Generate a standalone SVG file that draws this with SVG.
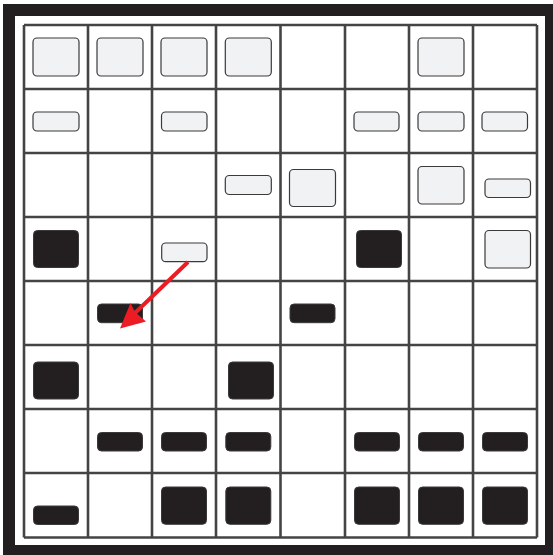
<svg xmlns="http://www.w3.org/2000/svg" width="553" height="555" viewBox="0 0 553 555">
<style>
.grid line{stroke:#444;stroke-width:2.6}
.lt{fill:#f1f2f3;stroke:#3a3a3a;stroke-width:1.2}
.dk{fill:#231f20;stroke:#3a3a3a;stroke-width:1}
.arr{stroke:#ed1c24;stroke-width:4;fill:none}
</style>
<rect x="3" y="4" width="550" height="551" fill="#231f20"/>
<rect x="15" y="16" width="530" height="529" fill="#ffffff"/>
<g class="grid" id="grid">
<line x1="24" y1="25" x2="24" y2="537.5"/>
<line x1="88" y1="25" x2="88" y2="537.5"/>
<line x1="152" y1="25" x2="152" y2="537.5"/>
<line x1="216" y1="25" x2="216" y2="537.5"/>
<line x1="280.5" y1="25" x2="280.5" y2="537.5"/>
<line x1="345" y1="25" x2="345" y2="537.5"/>
<line x1="409" y1="25" x2="409" y2="537.5"/>
<line x1="473" y1="25" x2="473" y2="537.5"/>
<line x1="537" y1="25" x2="537" y2="537.5"/>
<line x1="24" y1="25" x2="537" y2="25"/>
<line x1="24" y1="89" x2="537" y2="89"/>
<line x1="24" y1="153" x2="537" y2="153"/>
<line x1="24" y1="217" x2="537" y2="217"/>
<line x1="24" y1="281" x2="537" y2="281"/>
<line x1="24" y1="345" x2="537" y2="345"/>
<line x1="24" y1="409" x2="537" y2="409"/>
<line x1="24" y1="473" x2="537" y2="473"/>
<line x1="24" y1="537.5" x2="537" y2="537.5"/>
</g>
<g id="r0c0"><rect class="lt" x="33" y="38" width="46" height="38" rx="4"/></g>
<g id="r0c1"><rect class="lt" x="97" y="38" width="46" height="38" rx="4"/></g>
<g id="r0c2"><rect class="lt" x="161" y="38" width="46" height="38" rx="4"/></g>
<g id="r0c3"><rect class="lt" x="225.3" y="38" width="46" height="38" rx="4"/></g>
<g id="r0c6"><rect class="lt" x="418" y="38" width="46" height="38" rx="4"/></g>
<g id="r1c0"><rect class="lt" x="33" y="112" width="46" height="19" rx="4"/></g>
<g id="r1c2"><rect class="lt" x="161.5" y="112" width="45.5" height="19" rx="4"/></g>
<g id="r1c5"><rect class="lt" x="354" y="112" width="45" height="19" rx="4"/></g>
<g id="r1c6"><rect class="lt" x="418" y="112" width="46" height="19" rx="4"/></g>
<g id="r1c7"><rect class="lt" x="482" y="112" width="45.5" height="19" rx="4"/></g>
<g id="r2c3"><rect class="lt" x="225.3" y="175.5" width="46" height="19" rx="4"/></g>
<g id="r2c4"><rect class="lt" x="289.5" y="169.5" width="46" height="37" rx="4"/></g>
<g id="r2c6"><rect class="lt" x="418" y="166.5" width="46" height="37.5" rx="4"/></g>
<g id="r2c7"><rect class="lt" x="485" y="179" width="45.5" height="18.5" rx="4"/></g>
<g id="r3c0"><rect class="dk" x="33.5" y="230.5" width="45" height="37" rx="4"/></g>
<g id="r3c2"><rect class="lt" x="161.7" y="243" width="45.3" height="18.7" rx="4"/></g>
<g id="r3c5"><rect class="dk" x="356.5" y="230.5" width="45" height="37" rx="4"/></g>
<g id="r3c7"><rect class="lt" x="485" y="230.5" width="45.5" height="37.5" rx="4"/></g>
<g id="r4c1"><rect class="dk" x="97.5" y="304" width="45" height="18.7" rx="4"/></g>
<g id="r4c4"><rect class="dk" x="290" y="304" width="45" height="18.7" rx="4"/></g>
<g id="r5c0"><rect class="dk" x="33.5" y="362" width="45" height="37" rx="4"/></g>
<g id="r5c3"><rect class="dk" x="228.5" y="362" width="45" height="37" rx="4"/></g>
<g id="r6c1"><rect class="dk" x="97.5" y="432.5" width="45" height="18.5" rx="4"/></g>
<g id="r6c2"><rect class="dk" x="161.5" y="432.5" width="45" height="18.5" rx="4"/></g>
<g id="r6c3"><rect class="dk" x="225.8" y="432.5" width="45" height="18.5" rx="4"/></g>
<g id="r6c5"><rect class="dk" x="354.5" y="432.5" width="45" height="18.5" rx="4"/></g>
<g id="r6c6"><rect class="dk" x="418.5" y="432.5" width="45" height="18.5" rx="4"/></g>
<g id="r6c7"><rect class="dk" x="482.5" y="432.5" width="45" height="18.5" rx="4"/></g>
<g id="r7c0"><rect class="dk" x="33.5" y="506" width="45" height="18.5" rx="4"/></g>
<g id="r7c2"><rect class="dk" x="161.5" y="487" width="45" height="37.3" rx="4"/></g>
<g id="r7c3"><rect class="dk" x="225.8" y="487" width="45" height="37.3" rx="4"/></g>
<g id="r7c5"><rect class="dk" x="354.5" y="487" width="45" height="37.3" rx="4"/></g>
<g id="r7c6"><rect class="dk" x="418.5" y="487" width="45" height="37.3" rx="4"/></g>
<g id="r7c7"><rect class="dk" x="482.5" y="487" width="45" height="37.3" rx="4"/></g>
<g id="connectors">
<line class="arr" x1="188" y1="262" x2="135" y2="313"/>
<polygon points="120,328.5 130.5,303 135,312 146,321.5" fill="#ed1c24"/>
</g>
</svg>
